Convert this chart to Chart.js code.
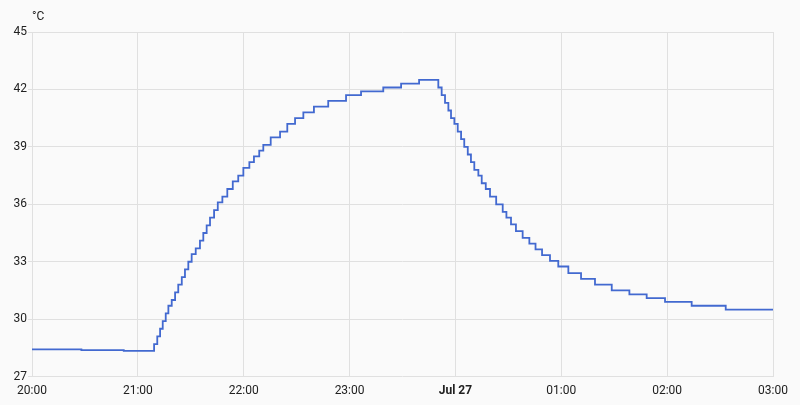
<!DOCTYPE html>
<html>
<head>
  <title>Temperature</title>
  <meta charset="utf-8" />
  <script src="https://cdn.jsdelivr.net/npm/chart.js"></script>
  <style>
    html, body { margin: 0; padding: 0; background: #fafafa; }
    canvas { display: block; }
  </style>
</head>
<body>
  <canvas id="chart" width="800" height="405"></canvas>

  <script>
    // minutes after 20:00 where the sensor reported a new value
    const changeMinutes = [
      0, 28, 52,
      69.2, 71.0, 72.6, 74.1, 75.8, 77.3, 79.2, 81.1, 82.9, 84.9,
      86.7, 88.6, 90.5, 92.8, 95.2, 97.1, 99.0, 100.9, 103.2, 105.3,
      107.9, 110.7, 113.8, 116.9, 119.8, 123.2, 125.8, 128.8, 131.1, 135.3,
      140.6, 144.7, 149.1, 153.8, 159.8, 167.9, 178.0, 186.5, 199.1, 209.2, 219.4,
      230.3, 232.2, 234.1, 236.0, 237.5, 239.4, 241.3, 243.2, 245.0, 247.0,
      248.8, 250.7, 253.0, 254.9, 257.2, 259.6, 263.1, 266.8, 268.9, 271.5,
      274.3, 278.1, 281.9, 285.4, 289.1, 293.6, 298.3, 304.0, 311.2, 319.1,
      328.6, 338.6, 348.4, 358.8, 373.9, 393.2, 420
    ];
    // temperature in °C
    const temperatures = [
      28.42, 28.38, 28.34,
      28.7, 29.1, 29.5, 29.9, 30.3, 30.7, 31.0, 31.4, 31.8, 32.2,
      32.6, 33.0, 33.4, 33.7, 34.1, 34.5, 34.9, 35.3, 35.7, 36.1,
      36.4, 36.8, 37.2, 37.5, 37.9, 38.2, 38.5, 38.8, 39.1, 39.5,
      39.8, 40.2, 40.5, 40.8, 41.1, 41.4, 41.7, 41.9, 42.1, 42.3, 42.5,
      42.1, 41.7, 41.3, 40.9, 40.5, 40.2, 39.8, 39.4, 39.0, 38.6,
      38.2, 37.8, 37.5, 37.1, 36.8, 36.4, 36.0, 35.6, 35.3, 34.95,
      34.6, 34.25, 33.95, 33.65, 33.35, 33.05, 32.75, 32.4, 32.1, 31.8,
      31.5, 31.3, 31.1, 30.9, 30.7, 30.5, 30.5
    ];
    const xTickLabels = ['20:00', '21:00', '22:00', '23:00', 'Jul 27', '01:00', '02:00', '03:00'];
    const unit = '°C';

    const points = changeMinutes.map((m, i) => ({ x: m, y: temperatures[i] }));

    // unit label above the y axis
    const unitLabel = {
      id: 'unitLabel',
      afterDraw(chart) {
        const ctx = chart.ctx;
        ctx.save();
        ctx.font = '12px Roboto';
        ctx.fillStyle = '#212121';
        ctx.textAlign = 'left';
        ctx.textBaseline = 'middle';
        ctx.fillText(unit, chart.chartArea.left, 17);
        ctx.restore();
      }
    };

    new Chart(document.getElementById('chart'), {
      type: 'line',
      data: {
        datasets: [{
          data: points,
          stepped: true,
          borderColor: '#4269d0',
          borderWidth: 1.8,
          pointRadius: 0,
          fill: false
        }]
      },
      options: {
        responsive: false,
        animation: false,
        layout: { padding: { top: 32, right: 27, bottom: 0, left: 0 } },
        plugins: { legend: { display: false }, tooltip: { enabled: false } },
        scales: {
          x: {
            type: 'linear',
            min: 0,
            max: 420,
            border: { display: false },
            grid: { color: '#e0e0e0', drawTicks: false },
            ticks: {
              stepSize: 60,
              padding: 7,
              color: '#212121',
              maxRotation: 0,
              autoSkip: false,
              font: c => ({
                family: 'Roboto',
                size: 12,
                weight: c.tick && c.tick.value === 240 ? 'bold' : 'normal'
              }),
              callback: v => xTickLabels[Math.round(v / 60)]
            }
          },
          y: {
            min: 27,
            max: 45,
            border: { display: false },
            grid: { color: '#e0e0e0', tickLength: 4 },
            afterFit: scale => { scale.width = 32; },
            ticks: {
              stepSize: 3,
              padding: 1,
              color: '#212121',
              font: { family: 'Roboto', size: 12 }
            }
          }
        }
      },
      plugins: [unitLabel]
    });
  </script>
</body>
</html>
